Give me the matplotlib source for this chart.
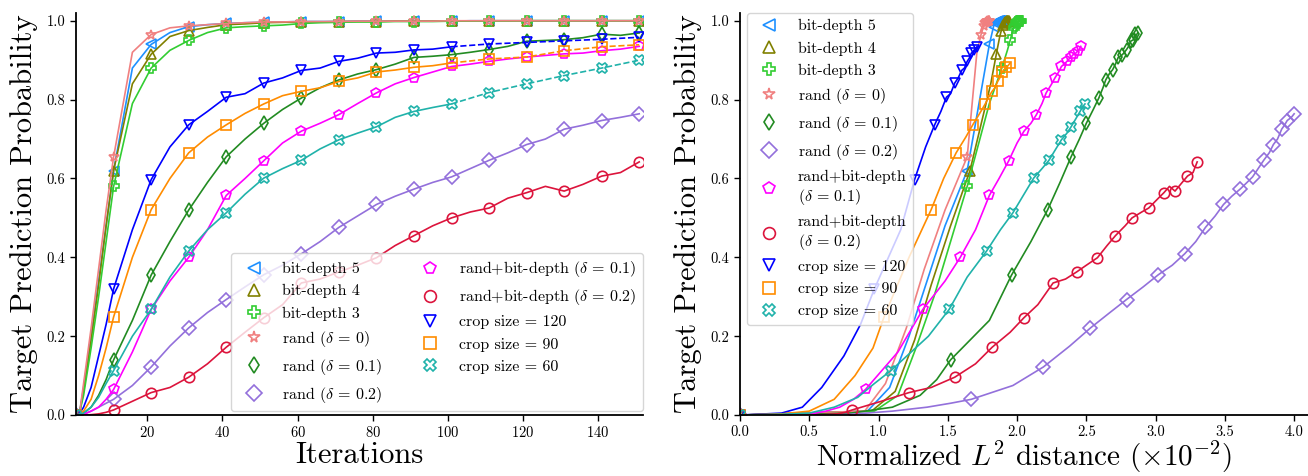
import matplotlib.pyplot as plt
from matplotlib.lines import Line2D

plt.rcParams['font.family'] = 'serif'
plt.rcParams['font.serif'] = ['cmr10']
plt.rcParams['mathtext.fontset'] = 'cm'
plt.rcParams['axes.formatter.use_mathtext'] = True

iters = [1, 2, 3, 5, 7, 9, 11, 16, 21, 26, 31, 36, 41, 46, 51, 56, 61, 66, 71, 76,
         81, 86, 91, 96, 101, 106, 111, 116, 121, 126, 131, 136, 141, 146, 151]
ext_iters = [101, 111, 121, 131, 141, 151]

# target prediction probability per iteration
bd5_p = [0, 0.01, 0.07, 0.2, 0.34, 0.48, 0.62, 0.88, 0.94, 0.97, 0.985, 0.99, 0.993, 0.995, 0.996,
         0.997, 0.998, 0.998, 0.998, 0.999, 0.999, 0.999, 0.999, 0.999, 0.999,
         1.0, 1.0, 1.0, 1.0, 1.0, 1.0, 1.0, 1.0, 1.0, 1.0]
bd4_p = [0, 0.01, 0.06, 0.19, 0.33, 0.48, 0.62, 0.84, 0.915, 0.96, 0.975, 0.983, 0.99, 0.992, 0.995,
         0.996, 0.997, 0.997, 0.998, 0.998, 0.998, 0.999, 0.999, 0.999, 0.999,
         0.999, 1.0, 1.0, 1.0, 1.0, 1.0, 1.0, 1.0, 1.0, 1.0]
bd3_p = [0, 0.01, 0.05, 0.17, 0.30, 0.44, 0.58, 0.79, 0.88, 0.925, 0.95, 0.97, 0.982, 0.985, 0.987,
         0.989, 0.993, 0.995, 0.996, 0.997, 0.997, 0.998, 0.998, 0.998, 0.999,
         0.999, 0.999, 0.999, 1.0, 1.0, 1.0, 1.0, 1.0, 1.0, 1.0]
r0_p = [0, 0.01, 0.08, 0.22, 0.37, 0.52, 0.655, 0.92, 0.965, 0.982, 0.987, 0.99, 0.993, 0.995, 0.997,
        0.997, 0.998, 0.998, 0.998, 0.999, 0.999, 0.999, 0.999, 0.999, 1.0,
        1.0, 1.0, 1.0, 1.0, 1.0, 1.0, 1.0, 1.0, 1.0, 1.0]
r01_p = [0, 0.002, 0.005, 0.02, 0.05, 0.09, 0.14, 0.24, 0.355, 0.44, 0.52, 0.59, 0.655, 0.70, 0.74,
         0.775, 0.804, 0.83, 0.85, 0.865, 0.876, 0.89, 0.907, 0.91, 0.914,
         0.92, 0.927, 0.935, 0.948, 0.95, 0.952, 0.957, 0.966, 0.963, 0.969]
r02_p = [0, 0.0, 0.002, 0.01, 0.02, 0.03, 0.04, 0.075, 0.122, 0.175, 0.221, 0.26, 0.293, 0.325, 0.356,
         0.38, 0.409, 0.44, 0.476, 0.505, 0.534, 0.555, 0.573, 0.59, 0.604,
         0.625, 0.646, 0.665, 0.686, 0.70, 0.725, 0.735, 0.747, 0.755, 0.764]
rb01_p = [0, 0.001, 0.002, 0.01, 0.02, 0.04, 0.065, 0.16, 0.268, 0.34, 0.40, 0.47, 0.557, 0.60, 0.645,
          0.69, 0.72, 0.74, 0.762, 0.79, 0.817, 0.84, 0.856, 0.87, 0.884,
          0.89, 0.897, 0.903, 0.908, 0.912, 0.916, 0.918, 0.924, 0.928, 0.935]
rb02_p = [0, 0.0, 0.0, 0.001, 0.003, 0.007, 0.013, 0.035, 0.057, 0.07, 0.096, 0.13, 0.172, 0.21, 0.247,
          0.28, 0.335, 0.345, 0.363, 0.38, 0.399, 0.43, 0.455, 0.48, 0.50,
          0.515, 0.525, 0.55, 0.564, 0.58, 0.568, 0.585, 0.606, 0.615, 0.642]
c120_p = [0, 0.005, 0.02, 0.07, 0.15, 0.23, 0.32, 0.47, 0.597, 0.68, 0.736, 0.77, 0.806, 0.815, 0.842,
          0.855, 0.874, 0.88, 0.897, 0.905, 0.918, 0.92, 0.926, 0.928, 0.934]
c90_p = [0, 0.003, 0.01, 0.04, 0.10, 0.17, 0.249, 0.40, 0.521, 0.60, 0.665, 0.705, 0.736, 0.765, 0.789,
         0.81, 0.821, 0.83, 0.846, 0.855, 0.87, 0.875, 0.882, 0.886, 0.893]
c60_p = [0, 0.002, 0.005, 0.02, 0.045, 0.08, 0.113, 0.20, 0.268, 0.35, 0.416, 0.47, 0.513, 0.56, 0.601,
         0.625, 0.646, 0.675, 0.698, 0.715, 0.731, 0.755, 0.77, 0.78, 0.789]
# crop sizes only run to 100 iterations, continued as dashed lines
c120_ext = [0.934, 0.941, 0.945, 0.949, 0.953, 0.958]
c90_ext = [0.893, 0.903, 0.908, 0.924, 0.934, 0.939]
c60_ext = [0.789, 0.818, 0.84, 0.861, 0.88, 0.90]

# normalized L2 distance (x1e-2) at the same iterations
bd5_d = [0, 0.92, 1.08, 1.22, 1.35, 1.48, 1.64, 1.77, 1.80, 1.82, 1.83, 1.835, 1.84, 1.845, 1.85,
         1.85, 1.855, 1.86, 1.86, 1.865, 1.865, 1.87, 1.87, 1.87, 1.875,
         1.875, 1.875, 1.88, 1.88, 1.88, 1.88, 1.885, 1.885, 1.885, 1.89]
bd4_d = [0, 0.95, 1.12, 1.26, 1.38, 1.52, 1.66, 1.81, 1.85, 1.875, 1.886, 1.895, 1.90, 1.905, 1.91,
         1.91, 1.915, 1.915, 1.92, 1.92, 1.92, 1.925, 1.925, 1.925, 1.93,
         1.93, 1.93, 1.93, 1.935, 1.935, 1.935, 1.935, 1.94, 1.94, 1.94]
bd3_d = [0, 0.97, 1.14, 1.27, 1.40, 1.52, 1.64, 1.80, 1.89, 1.93, 1.95, 1.965, 1.975, 1.98, 1.985,
         1.99, 1.99, 1.995, 2.0, 2.0, 2.0, 2.005, 2.005, 2.01, 2.01,
         2.01, 2.015, 2.015, 2.015, 2.02, 2.02, 2.02, 2.02, 2.025, 2.025]
r0_d = [0, 0.90, 1.05, 1.20, 1.33, 1.48, 1.64, 1.71, 1.74, 1.755, 1.76, 1.765, 1.77, 1.77, 1.775,
        1.775, 1.78, 1.78, 1.78, 1.785, 1.785, 1.785, 1.79, 1.79, 1.79,
        1.79, 1.795, 1.795, 1.795, 1.795, 1.80, 1.80, 1.80, 1.80, 1.80]
r01_d = [0, 0.5, 0.8, 1.1, 1.3, 1.42, 1.52, 1.80, 1.96, 2.10, 2.22, 2.31, 2.39, 2.45, 2.50,
         2.55, 2.59, 2.62, 2.64, 2.665, 2.69, 2.71, 2.73, 2.745, 2.76,
         2.775, 2.79, 2.805, 2.82, 2.83, 2.84, 2.845, 2.85, 2.86, 2.87]
r02_d = [0, 0.5, 0.8, 1.1, 1.35, 1.52, 1.67, 1.97, 2.19, 2.38, 2.53, 2.67, 2.79, 2.91, 3.02,
         3.12, 3.21, 3.29, 3.36, 3.43, 3.49, 3.55, 3.61, 3.66, 3.70,
         3.74, 3.78, 3.82, 3.85, 3.88, 3.91, 3.93, 3.95, 3.98, 4.0]
rb01_d = [0, 0.3, 0.5, 0.62, 0.72, 0.82, 0.906, 1.14, 1.32, 1.48, 1.59, 1.70, 1.80, 1.87, 1.94,
          2.0, 2.05, 2.10, 2.14, 2.18, 2.21, 2.25, 2.275, 2.30, 2.32,
          2.34, 2.36, 2.375, 2.39, 2.40, 2.41, 2.425, 2.44, 2.45, 2.46]
rb02_d = [0, 0.3, 0.45, 0.6, 0.7, 0.76, 0.81, 1.02, 1.22, 1.38, 1.55, 1.70, 1.82, 1.95, 2.05,
          2.15, 2.26, 2.35, 2.43, 2.50, 2.58, 2.65, 2.71, 2.78, 2.83,
          2.90, 2.95, 3.02, 3.06, 3.10, 3.14, 3.18, 3.23, 3.27, 3.30]
c120_d = [0, 0.3, 0.45, 0.59, 0.75, 0.87, 0.97, 1.16, 1.26, 1.34, 1.405, 1.45, 1.49, 1.52, 1.55,
          1.575, 1.60, 1.62, 1.64, 1.655, 1.67, 1.68, 1.69, 1.70, 1.71]
c90_d = [0, 0.3, 0.5, 0.68, 0.83, 0.96, 1.04, 1.22, 1.38, 1.47, 1.56, 1.63, 1.68, 1.73, 1.77,
         1.80, 1.82, 1.84, 1.86, 1.875, 1.89, 1.905, 1.92, 1.935, 1.95]
c60_d = [0, 0.3, 0.5, 0.68, 0.85, 0.97, 1.09, 1.36, 1.51, 1.64, 1.78, 1.88, 1.97, 2.05, 2.12,
         2.18, 2.23, 2.28, 2.32, 2.36, 2.39, 2.43, 2.455, 2.47, 2.49]

series = [
    ('bit-depth 5', 'bit-depth 5', '#1E90FF', '<', bd5_p, bd5_d, None),
    ('bit-depth 4', 'bit-depth 4', '#808000', '^', bd4_p, bd4_d, None),
    ('bit-depth 3', 'bit-depth 3', '#32CD32', 'P', bd3_p, bd3_d, None),
    (r'rand ($\delta\,=\,0$)', r'rand ($\delta\,=\,0$)', '#F08080', '*', r0_p, r0_d, None),
    (r'rand ($\delta\,=\,0.1$)', r'rand ($\delta\,=\,0.1$)', '#228B22', 'd', r01_p, r01_d, None),
    (r'rand ($\delta\,=\,0.2$)', r'rand ($\delta\,=\,0.2$)', '#9370DB', 'D', r02_p, r02_d, None),
    (r'rand+bit-depth ($\delta\,=\,0.1$)', 'rand+bit-depth\n' + r'($\delta\,=\,0.1$)', '#FF00FF', 'p', rb01_p, rb01_d, None),
    (r'rand+bit-depth ($\delta\,=\,0.2$)', 'rand+bit-depth\n' + r'($\delta\,=\,0.2$)', '#DC143C', 'o', rb02_p, rb02_d, None),
    ('crop size = 120', 'crop size = 120', '#0000FF', 'v', c120_p, c120_d, c120_ext),
    ('crop size = 90', 'crop size = 90', '#FF8C00', 's', c90_p, c90_d, c90_ext),
    ('crop size = 60', 'crop size = 60', '#20B2AA', 'X', c60_p, c60_d, c60_ext),
]

MS = 7.5
MEW = 1.2
LW = 1.2

fig = plt.figure(figsize=(13.08, 4.76), dpi=100)
ax1 = fig.add_axes([75.7 / 1308, 0.128, (643 - 75.7) / 1308, 0.845])
ax2 = fig.add_axes([740 / 1308, 0.128, 1 - 740 / 1308, 0.845])

left_handles, right_handles = [], []
for lab1, lab2, col, mk, p, d, ext in series:
    it = iters[:len(p)]
    marks = [i for i, v in enumerate(it) if v % 10 == 1]
    style = dict(color=col, marker=mk, mfc='none', mec=col, ms=MS, mew=MEW, lw=LW)
    ax1.plot(it, p, markevery=marks, **style)
    if ext is not None:
        ax1.plot(ext_iters, ext, ls='--', markevery=list(range(1, len(ext))), **style)
    ax2.plot(d, p[:len(d)], markevery=marks, **style)
    left_handles.append(Line2D([], [], ls='none', marker=mk, mfc='none', mec=col, ms=MS + 1, mew=MEW, label=lab1))
    right_handles.append(Line2D([], [], ls='none', marker=mk, mfc='none', mec=col, ms=MS + 1, mew=MEW, label=lab2))

for ax in (ax1, ax2):
    ax.spines['top'].set_visible(False)
    ax.spines['right'].set_visible(False)
    for s in ('left', 'bottom'):
        ax.spines[s].set_linewidth(1.3)
    ax.set_ylim(0, 1.02)
    ax.set_yticks([0.0, 0.2, 0.4, 0.6, 0.8, 1.0])
    ax.set_yticklabels(['0.0', '0.2', '0.4', '0.6', '0.8', '1.0'])
    ax.tick_params(direction='out', length=4, width=1.0, labelsize=10.5)
    ax.set_ylabel('Target Prediction Probability', fontsize=22, labelpad=6)

ax1.set_xlim(0.9, 152)
ax1.set_xticks([20, 40, 60, 80, 100, 120, 140])
ax1.set_xlabel('Iterations', fontsize=22, labelpad=1)

ax2.set_xlim(0, 4.1)
ax2.set_xticks([0.0, 0.5, 1.0, 1.5, 2.0, 2.5, 3.0, 3.5, 4.0])
ax2.set_xticklabels(['0.0', '0.5', '1.0', '1.5', '2.0', '2.5', '3.0', '3.5', '4.0'])
ax2.set_xlabel(r'Normalized $L^2$ distance ($\times 10^{-2}$)', fontsize=21, labelpad=0)

ax1.legend(handles=left_handles, ncol=2, loc='lower right', bbox_to_anchor=(1.0, 0.01),
           borderaxespad=0, fontsize=11.5, edgecolor='0.8', framealpha=0.8)
ax2.legend(handles=right_handles, ncol=1, loc='upper left', bbox_to_anchor=(0.012, 1.0),
           borderaxespad=0, fontsize=11.5, edgecolor='0.8', framealpha=0.8)

fig.savefig('out.png', dpi=100)
